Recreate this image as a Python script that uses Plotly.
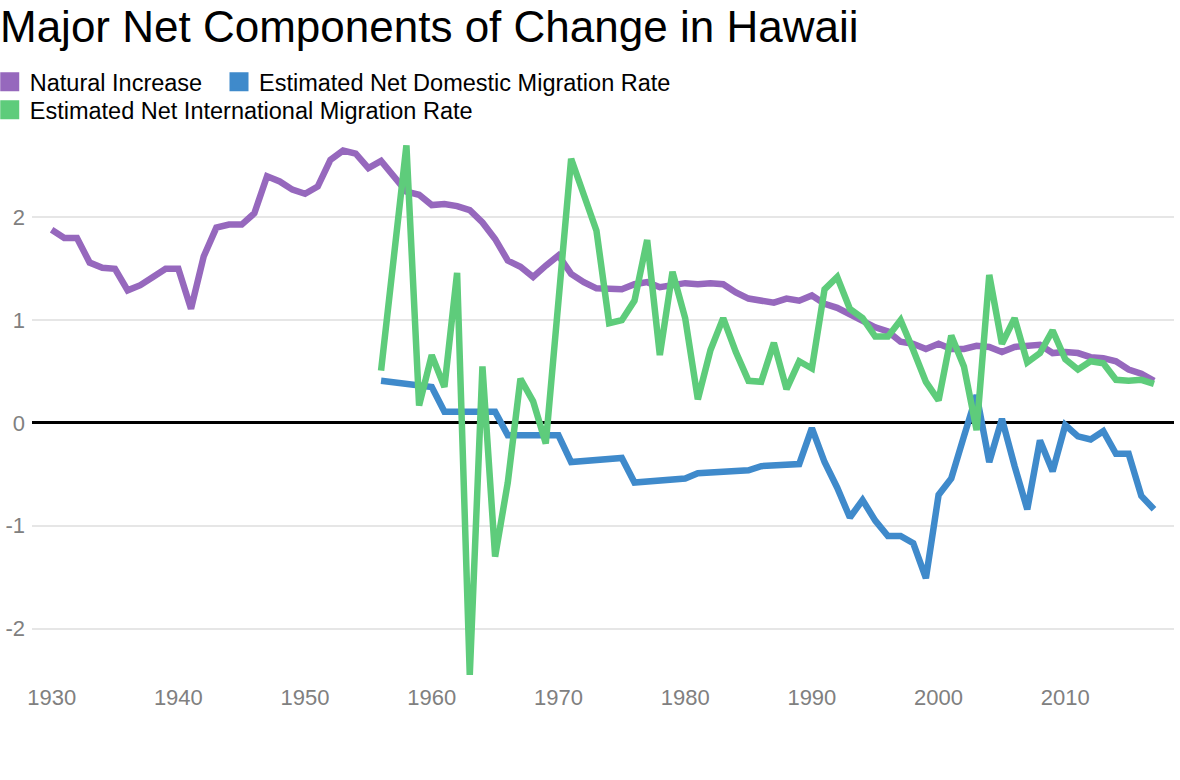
import plotly.graph_objects as go

years = list(range(1930, 2018))
natural_increase = [
    1.88, 1.80, 1.80, 1.56, 1.51, 1.50, 1.29, 1.34, 1.42, 1.50,
    1.50, 1.11, 1.62, 1.90, 1.93, 1.93, 2.04, 2.40, 2.35, 2.27,
    2.23, 2.30, 2.56, 2.65, 2.62, 2.48, 2.55, 2.40, 2.25, 2.22,
    2.12, 2.13, 2.11, 2.07, 1.95, 1.79, 1.58, 1.52, 1.42, 1.53,
    1.63, 1.45, 1.37, 1.31, 1.30, 1.30, 1.35, 1.37, 1.32, 1.34,
    1.36, 1.35, 1.36, 1.35, 1.27, 1.21, 1.19, 1.17, 1.21, 1.19,
    1.24, 1.16, 1.12, 1.06, 1.00, 0.93, 0.89, 0.79, 0.77, 0.72,
    0.77, 0.72, 0.72, 0.75, 0.74, 0.69, 0.74, 0.75, 0.76, 0.68,
    0.69, 0.68, 0.64, 0.63, 0.60, 0.52, 0.48, 0.41,
]

migration_years = list(range(1956, 2018))
domestic_migration = [
    0.41, 0.395, 0.38, 0.365, 0.35,
    0.11, 0.11, 0.11, 0.11, 0.11,
    -0.12, -0.12, -0.12, -0.12, -0.12,
    -0.38, -0.37, -0.36, -0.35, -0.34,
    -0.58, -0.57, -0.56, -0.55, -0.54,
    -0.49, -0.48, -0.47, -0.47, -0.46,
    -0.42, -0.41, -0.41, -0.40, -0.05,
    -0.38, -0.63, -0.92, -0.75, -0.95,
    -1.10, -1.10, -1.17, -1.51, -0.70,
    -0.54, -0.13, 0.27, -0.38, 0.04,
    -0.42, -0.84, -0.17, -0.47, -0.02,
    -0.13, -0.16, -0.08, -0.30, -0.30, -0.71, -0.84,
]
international_migration = [
    0.51, 1.60, 2.70, 0.17, 0.66, 0.35, 1.46, -2.45, 0.55, -1.30,
    -0.58, 0.43, 0.21, -0.20, 1.18, 2.57, 2.22, 1.87, 0.97, 1.00,
    1.19, 1.78, 0.66, 1.47, 1.02, 0.23, 0.71, 1.02, 0.69, 0.41,
    0.40, 0.78, 0.33, 0.60, 0.53, 1.30, 1.42, 1.11, 1.02, 0.84,
    0.84, 1.00, 0.71, 0.40, 0.22, 0.85, 0.55, -0.07, 1.44, 0.77,
    1.02, 0.59, 0.68, 0.90, 0.62, 0.52, 0.60, 0.58, 0.42, 0.41,
    0.42, 0.38,
]

series_names = [
    "Natural Increase",
    "Estimated Net Domestic Migration Rate",
    "Estimated Net International Migration Rate",
]
x_tick_values = [1930, 1940, 1950, 1960, 1970, 1980, 1990, 2000, 2010]
x_tick_labels = ["1930", "1940", "1950", "1960", "1970", "1980", "1990", "2000", "2010"]
y_tick_values = [-2, -1, 0, 1, 2]
y_tick_labels = ["-2", "-1", "0", "1", "2"]

PURPLE = "#9668bd"
BLUE = "#3f8acb"
GREEN = "#5ecc7b"
FONT = "Liberation Sans, Arial, sans-serif"

fig = go.Figure()
series = [
    (years, natural_increase, PURPLE, series_names[0]),
    (migration_years, domestic_migration, BLUE, series_names[1]),
    (migration_years, international_migration, GREEN, series_names[2]),
]
for xs, ys, col, nm in series:
    fig.add_trace(go.Scatter(
        x=xs, y=ys, mode="lines", name=nm, showlegend=False,
        line=dict(color=col, width=6.5), hoverinfo="x+y+name",
    ))

# legend swatches (square markers, no data); one legend per entry for exact placement
legend_ids = ["legend", "legend2", "legend3"]
for (xs, ys, col, nm), lid in zip(series, legend_ids):
    fig.add_trace(go.Scatter(
        x=[None], y=[None], mode="markers", name=nm,
        marker=dict(symbol="square", size=16, color=col, line=dict(color=col, width=3)),
        legend=lid,
    ))

legend_common = dict(
    orientation="h", yref="container", xanchor="left", yanchor="middle",
    font=dict(family=FONT, size=23.5, color="#000000"),
    bgcolor="rgba(0,0,0,0)", itemsizing="trace",
)

fig.update_layout(
    width=1180, height=780,
    paper_bgcolor="white", plot_bgcolor="white",
    margin=dict(l=32, r=6, t=130, b=98, autoexpand=False),
    title=dict(
        text="Major Net Components of Change in Hawaii",
        x=0.0, xref="container", xanchor="left",
        y=1 - 27 / 780, yref="container", yanchor="middle",
        font=dict(family=FONT, size=44, color="#000000"),
    ),
    legend=dict(legend_common, xref="paper", x=-0.037, y=1 - 82 / 780),
    legend2=dict(legend_common, xref="container", x=219 / 1180, y=1 - 82 / 780),
    legend3=dict(legend_common, xref="paper", x=-0.037, y=1 - 110 / 780),
    xaxis=dict(
        range=[1928.45, 2018.58], tickvals=x_tick_values, ticktext=x_tick_labels,
        showgrid=False, zeroline=False, showline=False, ticks="", automargin=False,
        tickfont=dict(family=FONT, size=22, color="#808080"),
    ),
    yaxis=dict(
        range=[-2.52, 2.85], tickvals=y_tick_values, ticktext=y_tick_labels,
        showgrid=True, gridcolor="#e6e6e6", gridwidth=2,
        zeroline=True, zerolinecolor="#000000", zerolinewidth=3,
        showline=False, ticks="", automargin=False, ticklabelstandoff=6,
        tickfont=dict(family=FONT, size=22, color="#808080"),
    ),
)

fig.write_html(
    "out.html",
    config={"displayModeBar": False},
    post_script="document.body.style.margin='0';",
)
